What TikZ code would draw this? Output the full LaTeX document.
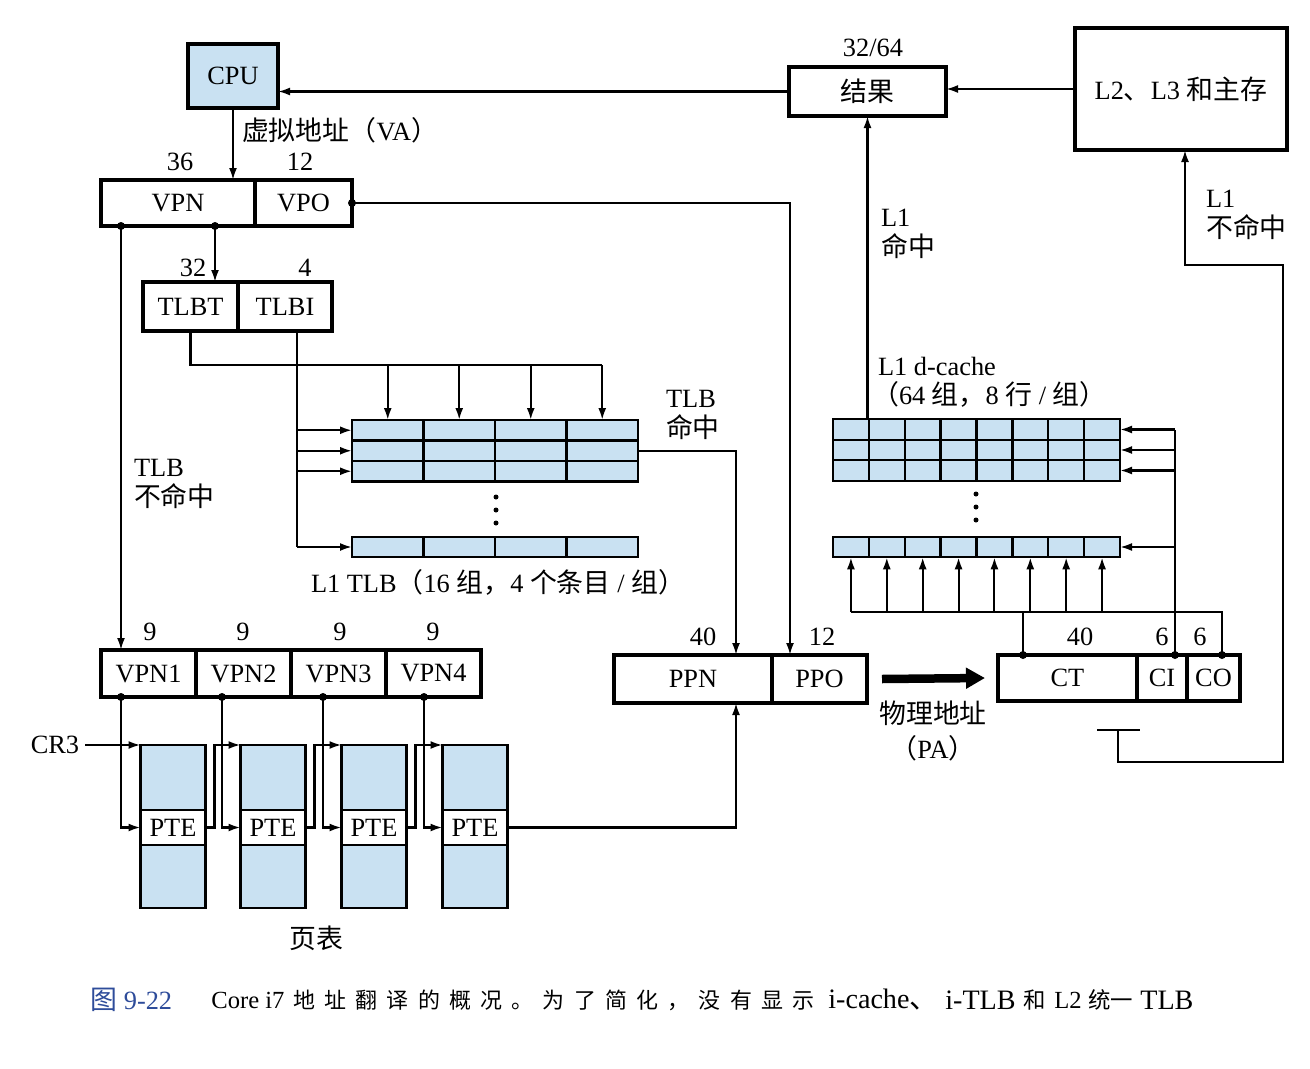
\documentclass[tikz,border=0pt]{standalone}
\usepackage{fontspec}
\setmainfont{Liberation Serif}
\newfontfamily\zh{Noto Sans CJK SC}[Scale=1.02]
\newfontfamily\zhcap{Noto Sans CJK SC}[LetterSpace=42]
\usepackage{tikz}
\usetikzlibrary{arrows.meta,positioning}
\definecolor{cellblue}{HTML}{C9E1F2}
\definecolor{capblue}{HTML}{2E4C9A}

\begin{document}
\begin{tikzpicture}[x=0.2mm,y=-0.2mm,
  every node/.style={font=\fontsize{15}{18}\selectfont},
  field/.style={draw,line width=1.8pt,outer sep=0pt,inner sep=0pt,
    minimum height=0.94cm},
  cell/.style={draw,line width=1.4pt,fill=cellblue,outer sep=0pt,
    inner sep=0pt,minimum height=0.41cm},
  lbl/.style={align=left,inner sep=1pt,font=\fontsize{15}{17}\selectfont},
  captext/.style={inner sep=0pt,font=\fontsize{14}{16}\selectfont},
  capzh/.style={inner sep=0pt,font=\fontsize{12.5}{16}\selectfont},
  capwide/.style={inner sep=0pt,font=\fontsize{16}{16}\selectfont},
  link/.style={line width=1.2pt,-{Latex[length=2.4mm,width=1.6mm]}},
  wire/.style={line width=1.2pt}]
\useasboundingbox (0,0) rectangle (1310,1069);

% cpu, result and lower levels
\node[field,fill=cellblue,minimum width=1.8cm,minimum height=1.28cm] (cpu) at (233,76) {CPU};
\node[field,minimum width=3.14cm,minimum height=0.98cm] (res) at (867.5,91.5) {\zh 结果};
\node[field,minimum width=4.24cm,minimum height=2.44cm] (mem) at (1181,89) {L2{\zh 、}L3 {\zh 和主存}};
\node (wres) at (873,48) {32/64};
\draw[link] (res.west) -- (res.west -| cpu.east);
\draw[link] (mem.west) -- (mem.west -| res.east);

% virtual address
\node[field,minimum width=3.08cm,minimum height=0.92cm] (vpn) at (178,203) {VPN};
\node[field,minimum width=1.94cm,minimum height=0.92cm,right=0pt of vpn] (vpo) {VPO};
\node (wvpn) at (180,162) {36};
\node (wvpo) at (300,162) {12};
\draw[link] (cpu.south) -- (cpu.south |- vpn.north);
\node[lbl,anchor=west] (va) at (240,130) {{\zh 虚拟地址（}VA{\zh ）}};

% tlb tag and index
\node[field,minimum width=1.9cm,minimum height=0.98cm] (tlbt) at (190.5,306.5) {TLBT};
\node[field,minimum width=1.88cm,minimum height=0.98cm,right=0pt of tlbt] (tlbi) {TLBI};
\node (wtlbt) at (193,268) {32};
\node (wtlbi) at (305,268) {4};
\coordinate (dtlb) at (215,226);
\coordinate (dmiss) at (121,226);
\draw[link] (dtlb) -- (dtlb |- tlbt.north);

% L1 TLB
\foreach \r/\y in {1/430.25,2/450.75,3/471.25,4/547}
  \foreach \c in {1,...,4}
    \node[cell,minimum width=1.43cm] (t\r\c) at ({352+71.5*(\c-0.5)},\y) {};
\foreach \y in {497,510,523} \fill (496,\y) circle (0.5mm);
\node (tlbname) at (498,582) {L1 TLB{\zh （}16 {\zh 组，}4 {\zh 个条目} / {\zh 组）}};
\draw[wire] (tlbt.south) |- (t14.north |- 0,365);
\foreach \c in {1,...,4} \draw[link] (t1\c.north |- 0,365) -- (t1\c.north);
\coordinate (ti) at (297,331);
\draw[wire] (ti) -- (ti |- t41.west);
\foreach \r in {1,...,4} \draw[link] (ti |- t\r1.west) -- (t\r1.west);
\node[lbl,anchor=west] (hit) at (664,415) {TLB\\{\zh 命中}};
\node[lbl,anchor=west] (miss) at (132,484) {TLB\\{\zh 不命中}};

% physical address
\node[field,minimum width=3.16cm,minimum height=0.96cm] (ppn) at (693,679) {PPN};
\node[field,minimum width=1.9cm,minimum height=0.96cm,right=0pt of ppn] (ppo) {PPO};
\node (wppn) at (703,637) {40};
\node (wppo) at (822,637) {12};
\coordinate (ppnin) at (736,655);
\coordinate (ppoin) at (790,655);
\draw[link] (t24.east) -| (ppnin);
\draw[link] (vpo.east) -| (ppoin);

% cache address
\node[field,minimum width=2.78cm,minimum height=0.92cm] (ct) at (1067.5,678) {CT};
\node[field,minimum width=1.0cm,minimum height=0.92cm,right=0pt of ct] (ci) {CI};
\node[field,minimum width=1.06cm,minimum height=0.92cm,right=0pt of ci] (co) {CO};
\node (wct) at (1080,637) {40};
\node (wci) at (1162,637) {6};
\node (wco) at (1200,637) {6};
\draw[line width=1.7mm,-{Triangle[length=3.8mm,width=4mm]}] ([xshift=3mm]ppo.east) -- ([xshift=-2.6mm]ct.west);
\node (pa) at (933,713) {\zh 物理地址};
\node (pa2) at (933,748) {{\zh （}PA{\zh ）}};

% L1 d-cache
\foreach \r/\y in {1/429.5,2/450,3/470.5,4/547}
  \foreach \c in {1,...,8}
    \node[cell,minimum width=0.7175cm] (c\r\c) at ({833+35.875*(\c-0.5)},\y) {};
\foreach \y in {494,507,520} \fill (976,\y) circle (0.5mm);
\node[lbl,anchor=west] (cname) at (876,366) {L1 d-cache};
\node[lbl,anchor=west] (cset) at (870,394) {{\zh （}64 {\zh 组，}8 {\zh 行} / {\zh 组）}};
\coordinate (dct) at (1023,655);
\coordinate (dci) at (1175,655);
\coordinate (dco) at (1222,655);
\draw[wire] (dct) -- (dct |- 0,612);
\draw[wire] (dco) |- (c41.south |- 0,612);
\foreach \c in {1,...,8} \draw[link] (c4\c.south |- 0,612) -- (c4\c.south);
\draw[wire] (dci) -- (dci |- c18.east);
\foreach \r in {1,...,4} \draw[link] (dci |- c\r8.east) -- (c\r8.east);
\draw[link] (res.south |- c11.north) -- (res.south);
\node[lbl,anchor=west] (l1hit) at (879,234) {L1\\{\zh 命中}};
\coordinate (gnd) at (1118,730);
\coordinate (memin) at (1185,150);
\draw[wire] (1097,730) -- (1140,730);
\draw[link] (gnd) |- (1283,762) |- (memin |- 0,265) -- (memin);
\node[lbl,anchor=west] (l1miss) at (1204,215) {L1\\{\zh 不命中}};

% page walk
\node[field,minimum width=1.9cm] (vpn1) at (148.5,673.5) {VPN1};
\foreach \i [count=\j] in {2,3,4}
  \node[field,minimum width=1.9cm,right=0pt of vpn\j] (vpn\i) {VPN\i};
\foreach \i/\x in {1/150,2/243,3/340,4/433}
  \node (w\i) at (\x,632) {9};
\draw[link] (dmiss) -- (dmiss |- vpn1.north);
\foreach \i/\x in {1/173,2/273,3/374,4/475}{
  \node[cell,minimum width=1.3cm,minimum height=1.3cm] (pt\i) at (\x,777.5) {};
  \node[field,line width=1.4pt,fill=white,minimum width=1.3cm,minimum height=0.7cm,below=0pt of pt\i] (pte\i) {PTE};
  \node[cell,minimum width=1.3cm,minimum height=1.26cm,below=0pt of pte\i] (pb\i) {};
}
\node (cr3) at (55,745) {CR3};
\draw[link] (cr3.east |- pt1.north west) -- (pt1.north west);
\foreach \i/\x in {1/121,2/222,3/323,4/424}{
  \coordinate (dv\i) at (\x,697);
  \draw[link] (dv\i) |- (pte\i.west);
  \fill (dv\i) circle (0.8mm);
}
\foreach \i [count=\j from 2] in {1,2,3}
  \draw[link] (pte\i.east) -- ++(9,0) |- (pt\j.north west);
\draw[link] (pte4.east) -| (ppnin |- ppn.south);
\node (ptname) at (316,938) {\zh 页表};

\foreach \p in {dmiss,dtlb,dct,dci,dco,vpo.east} \fill (\p) circle (0.8mm);

% caption
\node[captext,anchor=west,text=capblue,font=\fontsize{15}{16}\selectfont] (fig) at (90,1000) {{\zh 图} 9-22};
\node[captext,anchor=west] (cap1) at (211,1000) {Core i7};
\node[capzh,anchor=west] (cap2) at (293,1000) {\zhcap 地址翻译的概况。为了简化，没有显示};
\node[capwide,anchor=west] (cap3) at (828,1000) {i-cache{\zh 、}};
\node[capwide,anchor=west] (cap4) at (945,1000) {i-TLB};
\node[capzh,anchor=west] (cap5) at (1023,1000) {\zh 和};
\node[captext,anchor=west] (cap6) at (1054,1000) {L2};
\node[capzh,anchor=west] (cap7) at (1088,1000) {\zh 统一};
\node[capwide,anchor=west] (cap8) at (1140,1000) {TLB};
\end{tikzpicture}
\end{document}
